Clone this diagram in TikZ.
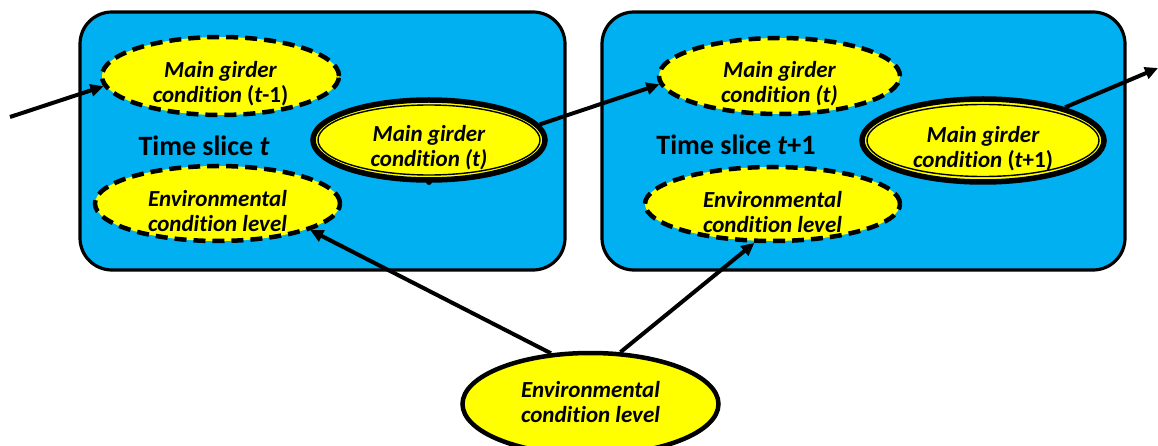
\documentclass[tikz,border=0pt]{standalone}
\usepackage{fontspec}
\setmainfont{Carlito}[Ligatures=NoCommon]
\usetikzlibrary{shapes.geometric,arrows.meta}
\definecolor{slicefill}{HTML}{00B0F0}
\definecolor{nodefill}{HTML}{FFFF00}

\begin{document}
\begin{tikzpicture}[x=1pt,y=-1pt,
  slicebox/.style={draw, line width=3.2pt, fill=slicefill, rounded corners=32pt},
  varnode/.style={ellipse, fill=nodefill, inner sep=0pt},
  vartext/.style={align=center, inner sep=0pt, yshift=-8pt,
    font=\fontsize{23}{25}\selectfont\bfseries\itshape},
  prevnode/.style={varnode, draw, line width=4.5pt, dash pattern=on 12pt off 7pt},
  curnode/.style={varnode, draw, line width=5.5pt},
  ring/.style={line width=1.4pt},
  envnode/.style={varnode, draw, line width=4.5pt},
  link/.style={line width=4pt, -{Triangle[length=13pt,width=12pt]}},
  slicelabel/.style={anchor=base, inner sep=0pt, font=\fontsize{28}{32}\selectfont\bfseries}]
\useasboundingbox (0,0) rectangle (1158,446);
\clip (0,0) rectangle (1158,446);

% time slices
\draw[slicebox] (80,12) rectangle (565,270);
\draw[slicebox] (602,12) rectangle (1125,270);
\node[slicelabel] (L1) at (204,156) {Time slice \textit{t}};
\node[slicelabel] (L2) at (736,155) {Time slice \textit{t}+1};

% slice t
\node[prevnode, minimum width=237pt, minimum height=78pt] (A1) at (220.5,76) {};
\node[vartext] (A1t) at (A1.center) {Main girder\\condition {\upshape(}t{\upshape-1)}};
\node[curnode, minimum width=232pt, minimum height=80pt] (B1) at (429,140) {};
\draw[ring] (B1.center) ellipse [x radius=111pt, y radius=35pt];
\fill (B1.center) ++(0,42) circle (3pt);
\node[vartext] (B1t) at (B1.center) {Main girder\\condition (t)};
\node[prevnode, minimum width=245pt, minimum height=75pt] (C1) at (217.5,203.5) {};
\node[vartext] (C1t) at (C1.center) {Environmental\\condition level};

% slice t+1
\node[prevnode, minimum width=241pt, minimum height=76pt] (A2) at (779.5,76) {};
\node[vartext] (A2t) at (A2.center) {Main girder\\condition (t)};
\node[curnode, minimum width=242pt, minimum height=83pt] (B2) at (983,140.5) {};
\draw[ring] (B2.center) ellipse [x radius=116pt, y radius=36pt];
\node[vartext] (B2t) at (B2.center) {Main girder\\condition {\upshape(}t{\upshape+1)}};
\node[prevnode, minimum width=255pt, minimum height=74pt] (C2) at (772.5,204) {};
\node[vartext] (C2t) at (C2.center) {Environmental\\condition level};

% shared environment
\node[envnode, minimum width=256pt, minimum height=102pt] (D) at (590.5,404) {};
\node[vartext, yshift=10pt] (Dt) at (D.center) {Environmental\\condition level};

% connectors
\coordinate (in) at (10,117);
\coordinate (out) at (1158,68);
\draw[link] (in) -- (A1.185);
\draw[link] (B1.8) -- (A2.184);
\draw[link] (B2.22) -- (out);
\draw[link] (D.128) -- (C1.344);
\draw[link] (D.60) -- (C2.245);
\end{tikzpicture}
\end{document}
